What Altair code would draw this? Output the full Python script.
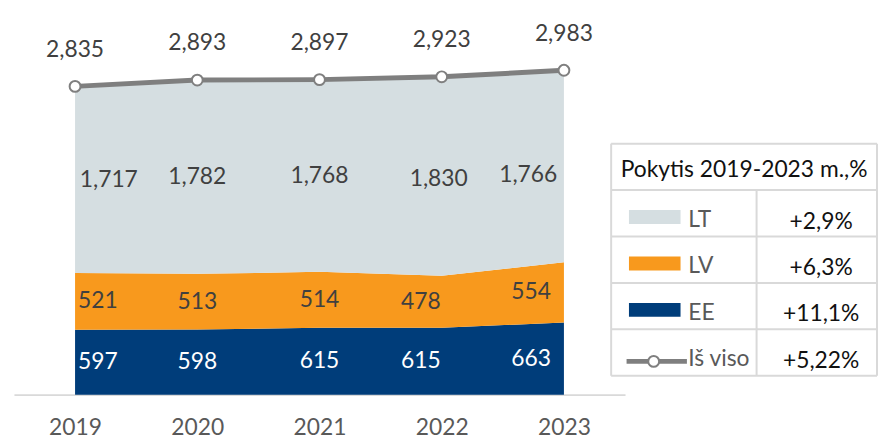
import altair as alt
import pandas as pd

# ---------------- data ----------------
YEARS = ["2019", "2020", "2021", "2022", "2023"]
EE = [597, 598, 615, 615, 663]
LV = [521, 513, 514, 478, 554]
LT = [1717, 1782, 1768, 1830, 1766]
TOTAL = [2835, 2893, 2897, 2923, 2983]
SERIES = ["EE", "LV", "LT"]          # bottom -> top
TABLE_TITLE = "Pokytis 2019-2023 m.,%"
CHANGE_LABELS = ["LT", "LV", "EE", "Iš viso"]
CHANGE_VALUES = ["+2,9%", "+6,3%", "+11,1%", "+5,22%"]

# ---------------- style ----------------
FONT = "Lato"
FS = 23
COLORS = ["#003d7a", "#f8991d", "#d5dee1"]   # EE, LV, LT
LINE_GRAY = "#7f7f7f"
TXT = "#404040"
GRID = "#d9d9d9"

# ---------------- tables ----------------
rows = []
for i, y in enumerate(YEARS):
    base = 0
    for s, vals in zip(SERIES, [EE, LV, LT]):
        v = vals[i]
        rows.append({"year": y, "series": s, "value": v, "y0": base, "y1": base + v,
                     "mid": base + v / 2})
        base += v
stack_df = pd.DataFrame(rows)
total_df = pd.DataFrame({"year": YEARS, "total": TOTAL})

yscale = alt.Scale(domain=[0, 3540])
xenc = alt.X("year:O", scale=alt.Scale(type="point", domain=YEARS, padding=0.5),
             axis=alt.Axis(title=None, labelAngle=0, ticks=False, grid=False,
                           domainColor=GRID, domainWidth=2, labelFontSize=FS,
                           labelFont=FONT, labelColor="#595959", labelPadding=22))
cscale = alt.Scale(domain=SERIES, range=COLORS)

area = alt.Chart(stack_df).mark_area(opacity=1).encode(
    x=xenc,
    y=alt.Y("y1:Q", scale=yscale, axis=None),
    y2="y0:Q",
    color=alt.Color("series:N", scale=cscale, legend=None),
)

line = alt.Chart(total_df).mark_line(color=LINE_GRAY, strokeWidth=5).encode(
    x=alt.X("year:O"), y=alt.Y("total:Q", scale=yscale, axis=None))
pts = alt.Chart(total_df).mark_point(filled=True, fill="white", stroke=LINE_GRAY,
                                     strokeWidth=2, size=120, opacity=1).encode(
    x=alt.X("year:O"), y=alt.Y("total:Q", scale=yscale, axis=None))
tot_lbl = alt.Chart(total_df).mark_text(font=FONT, fontSize=FS, color=TXT, dy=-37,
                                        baseline="middle").encode(
    x=alt.X("year:O"), y=alt.Y("total:Q", scale=yscale, axis=None),
    text=alt.Text("total:Q", format=","))

# label offsets (layout only): default per year, with overrides for the LT band
YEAR_DX = {"2019": 23, "2020": 0, "2021": 0, "2022": -21, "2023": -33}
LT_OFFSET = {"2019": (34, 0), "2020": (0, 0), "2021": (0, 0), "2022": (-3, 3), "2023": (-36, 9)}
lbl_layers = []
for s in SERIES:
    for yr in YEARS:
        dx, dy = LT_OFFSET[yr] if s == "LT" else (YEAR_DX[yr], 0)
        lbl_layers.append(
            alt.Chart(stack_df).transform_filter(
                (alt.datum.year == yr) & (alt.datum.series == s)).mark_text(
                font=FONT, fontSize=FS, dx=dx, dy=dy, baseline="middle",
                color="white" if s == "EE" else TXT).encode(
                x=alt.X("year:O"), y=alt.Y("mid:Q", scale=yscale, axis=None),
                text=alt.Text("value:Q", format=","),
            )
        )

main = alt.layer(area, line, pts, tot_lbl, *lbl_layers)

# ---------------- change table (legend) ----------------
tx = alt.Scale(domain=[0, 1], range=[602, 870])
ty = alt.Scale(domain=[0, 5], range=[135, 369])
COL_DIV = 0.547

tab_df = pd.DataFrame({"label": CHANGE_LABELS, "value": CHANGE_VALUES,
                       "row": list(range(1, len(CHANGE_LABELS) + 1))})
sw_df = tab_df[tab_df["label"].isin(SERIES)].copy()
sw_df["series"] = sw_df["label"]

bg = alt.Chart(pd.DataFrame({"a": [0]})).mark_rect(fill="white").encode(
    x=alt.X(datum=0, type="quantitative", scale=tx, axis=None), x2=alt.X2(datum=1),
    y=alt.Y(datum=0, type="quantitative", scale=ty, axis=None), y2=alt.Y2(datum=5))

hlines = alt.Chart(pd.DataFrame({"h": [0, 1, 2, 3, 4, 5]})).mark_rule(
    color=GRID, strokeWidth=2).encode(
    x=alt.X(datum=0, type="quantitative", scale=tx, axis=None), x2=alt.X2(datum=1),
    y=alt.Y("h:Q", scale=ty, axis=None))
vlines = alt.Chart(pd.DataFrame({"v": [0, COL_DIV, 1], "top": [0, 1, 0]})).mark_rule(
    color=GRID, strokeWidth=2).encode(
    x=alt.X("v:Q", scale=tx, axis=None),
    y=alt.Y("top:Q", scale=ty, axis=None), y2=alt.Y2(datum=5))

title_txt = alt.Chart(pd.DataFrame({"t": [TABLE_TITLE]})).mark_text(
    font=FONT, fontSize=FS, color="#111111", baseline="middle").encode(
    x=alt.X(datum=0.5, type="quantitative", scale=tx, axis=None),
    y=alt.Y(datum=0.56, type="quantitative", scale=ty, axis=None),
    text="t:N")

swatch = alt.Chart(sw_df).transform_calculate(r0="datum.row + 0.43", r1="datum.row + 0.73").mark_rect().encode(
    x=alt.X(datum=0.067, type="quantitative", scale=tx, axis=None), x2=alt.X2(datum=0.261),
    y=alt.Y("r0:Q", scale=ty, axis=None), y2="r1:Q",
    color=alt.Color("series:N", scale=cscale, legend=None))

last_row = len(CHANGE_LABELS)
leg_line = alt.Chart(pd.DataFrame({"row": [last_row]})).transform_calculate(
    r="datum.row + 0.69").mark_rule(color=LINE_GRAY, strokeWidth=5).encode(
    x=alt.X(datum=0.058, type="quantitative", scale=tx, axis=None), x2=alt.X2(datum=0.285),
    y=alt.Y("r:Q", scale=ty, axis=None))
leg_pt = alt.Chart(pd.DataFrame({"row": [last_row]})).transform_calculate(
    r="datum.row + 0.69").mark_point(filled=True, fill="white", stroke=LINE_GRAY,
                                     strokeWidth=2, size=120, opacity=1).encode(
    x=alt.X(datum=0.16, type="quantitative", scale=tx, axis=None),
    y=alt.Y("r:Q", scale=ty, axis=None))

lab_txt = alt.Chart(tab_df).transform_calculate(r="datum.row + 0.64").mark_text(
    font=FONT, fontSize=FS, color="#595959", align="left", baseline="middle").encode(
    x=alt.X(datum=0.29, type="quantitative", scale=tx, axis=None),
    y=alt.Y("r:Q", scale=ty, axis=None), text="label:N")
val_txt = alt.Chart(tab_df).transform_calculate(r="datum.row + 0.68").mark_text(
    font=FONT, fontSize=FS, color="#111111", align="center", baseline="middle").encode(
    x=alt.X(datum=0.79, type="quantitative", scale=tx, axis=None),
    y=alt.Y("r:Q", scale=ty, axis=None), text="value:N")

table = alt.layer(bg, hlines, vlines, title_txt, swatch, leg_line, leg_pt, lab_txt, val_txt)

chart = alt.layer(main, table).resolve_scale(x="independent", y="independent").properties(
    width=616, height=388,
    padding={"left": 6, "top": 0, "right": 0, "bottom": 0},
    background="white",
).configure_view(stroke=None)

chart.save("out.html", embed_options={"renderer": "svg", "actions": False})
